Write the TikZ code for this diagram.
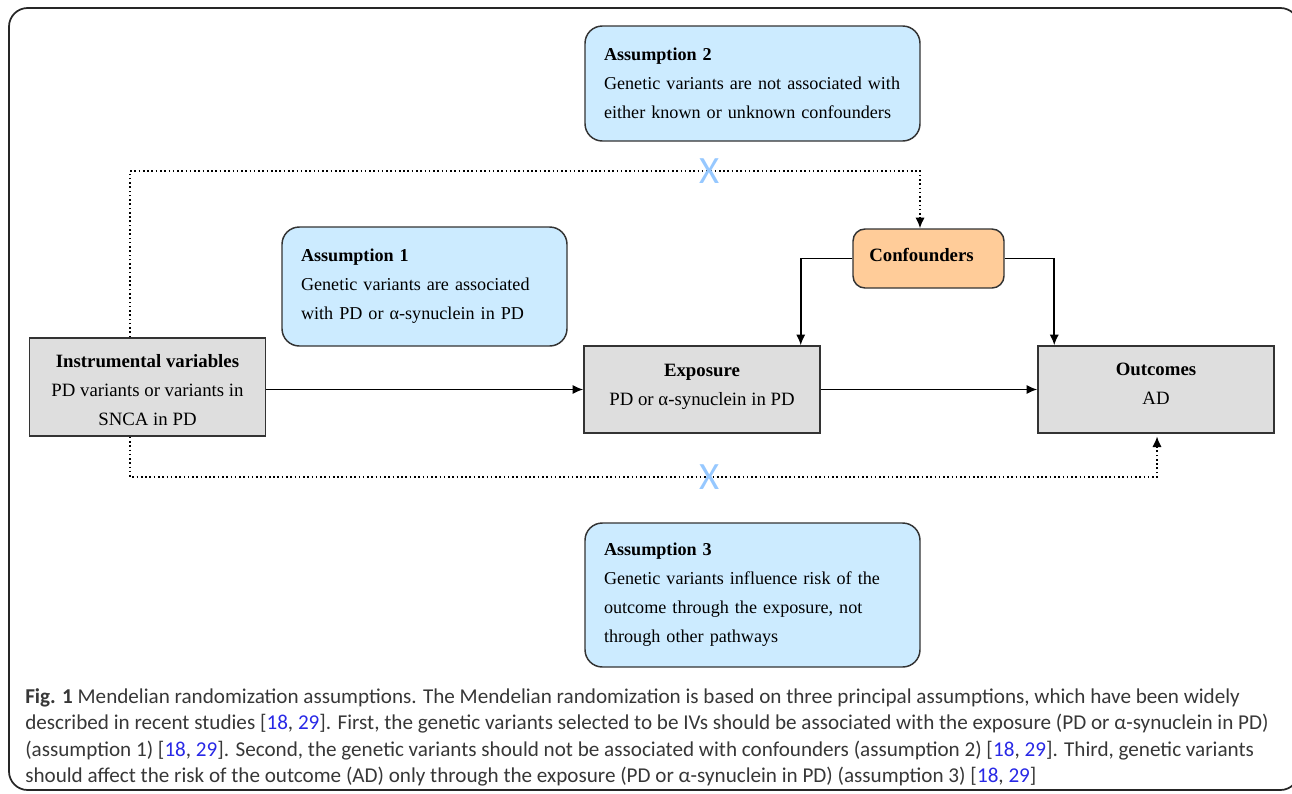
\documentclass[tikz,border=0pt]{standalone}
\usepackage{fontspec}
\setmainfont{Liberation Serif}
\newfontfamily\capfont{Carlito}
\usepackage{xcolor}
\definecolor{skyfill}{RGB}{204,235,255}
\definecolor{boxgray}{RGB}{222,222,222}
\definecolor{peach}{RGB}{255,204,153}
\definecolor{crossblue}{RGB}{150,200,255}
\definecolor{citeblue}{RGB}{40,40,230}
\definecolor{capgray}{RGB}{55,55,55}
\usetikzlibrary{arrows.meta,positioning}
\newcommand{\citepair}{[\textcolor{citeblue}{18}, \textcolor{citeblue}{29}]}

\begin{document}
\begin{tikzpicture}[
      x=0.75pt, y=-0.75pt,
      font=\fontsize{13.6}{21.75}\selectfont,
      varbox/.style={draw=black!80, line width=1.1pt, fill=boxgray, align=center,
                     font=\fontsize{14.1}{21.75}\selectfont,
                     minimum width=177pt, minimum height=65.25pt, inner sep=0pt},
      assume/.style={draw=black!80, line width=1.1pt, fill=skyfill, rounded corners=13pt,
                     align=left, inner xsep=14.25pt, inner ysep=0pt, text width=222.75pt},
      confbox/.style={draw=black!80, line width=1.1pt, fill=peach, rounded corners=9pt,
                      font=\fontsize{14.1}{21.75}\selectfont,
                      align=center, minimum width=113.25pt, minimum height=44.25pt, inner sep=0pt},
      arrow/.style={-{Latex[length=8pt,width=7pt]}, line width=1.4pt},
      dotarrow/.style={-{Latex[length=8pt,width=7pt]}, dotted, line width=1.2pt},
      cross/.style={text=crossblue, inner sep=0pt, font=\capfont\fontsize{29}{29}\selectfont}
  ]
  \useasboundingbox (0,0) rectangle (1292,793);
  \draw[line width=1.3pt, black!85, rounded corners=14pt] (9,8) rectangle (1299,790);

  % assumptions
  \node[assume, minimum height=86.25pt] (asm2) at (752.5,83.5)
       {\textbf{Assumption 2}\\Genetic variants are not associated with\\either known or unknown confounders};
  \node[assume, text width=185.25pt, minimum height=89.25pt] (asm1) at (424.5,286.5)
       {\textbf{Assumption 1}\\\makebox[185.25pt][s]{Genetic variants are associated}\\with PD or α-synuclein in PD};
  \node[assume, minimum height=108pt] (asm3) at (752.5,595)
       {\textbf{Assumption 3}\\Genetic variants influence risk of the\\outcome through the exposure, not\\through other pathways};

  % variables
  \node[varbox, minimum height=73.5pt] (iv) at (147.5,387)
       {\rule{0pt}{14pt}\textbf{Instrumental variables}\\PD variants or variants in\\SNCA in PD};
  \node[varbox] (expo) at (702,389.5) {\textbf{Exposure}\\PD or α-synuclein in PD\rule[-7.5pt]{0pt}{7.5pt}};
  \node[varbox] (outc) at (1156,389.5) {\textbf{Outcomes}\\AD\rule[-9pt]{0pt}{9pt}};
  \node[confbox] (conf) at (928.5,258.5) {\textbf{Confounders}\hspace*{10.5pt}\rule[-6pt]{0pt}{6pt}};

  % solid paths
  \draw[arrow] (iv.east |- expo.west) -- (expo.west);
  \draw[arrow] (expo) -- (outc);
  \draw[arrow] (conf.west) -| ([xshift=-15pt]expo.north east);
  \draw[arrow] (conf.east) -| ([xshift=12.75pt]outc.north west);

  % violated paths
  \coordinate (topl) at (130,171);
  \coordinate (topr) at (920,171);
  \coordinate (botl) at (130,477);
  \coordinate (botr) at (1157,477);
  \draw[dotarrow] (iv.north -| topl) -- (topl) -- (topr) -- (topr |- conf.north);
  \draw[dotarrow] (iv.south -| botl) -- (botl) -- (botr) -- ([yshift=-2pt]botr |- outc.south);
  \node[cross] (xtop) at (710,171) {X};
  \node[cross] (xbot) at (710,477) {X};

  % caption
  \node[anchor=north west, inner sep=0pt, align=left, text=capgray,
        font=\capfont\fontsize{15.85}{19.7}\selectfont] (cap) at (25,688.5)
       {\textbf{Fig. 1} Mendelian randomization assumptions. The Mendelian randomization is based on three principal assumptions, which have been widely\\
        described in recent studies \citepair. First, the genetic variants selected to be IVs should be associated with the exposure (PD or α-synuclein in PD)\\
        (assumption 1) \citepair. Second, the genetic variants should not be associated with confounders (assumption 2) \citepair. Third, genetic variants\\
        should affect the risk of the outcome (AD) only through the exposure (PD or α-synuclein in PD) (assumption 3) \citepair};
\end{tikzpicture}
\end{document}
